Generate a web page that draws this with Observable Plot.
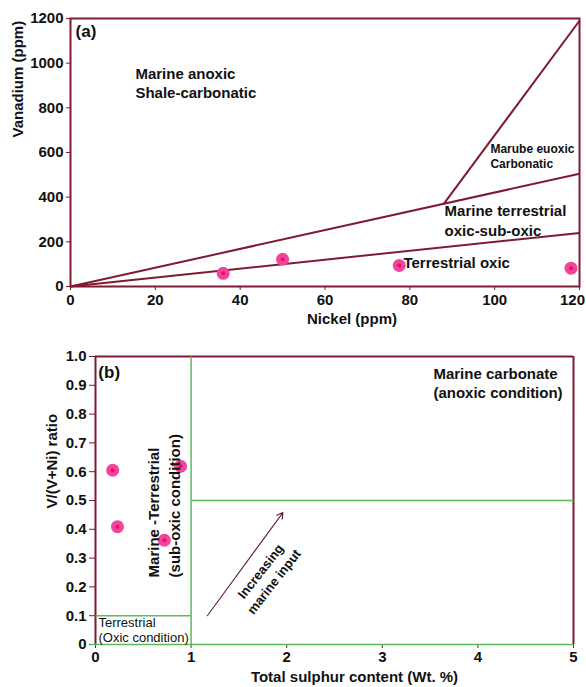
<!DOCTYPE html>
<html>
<head>
<meta charset="utf-8">
<script src="https://cdn.jsdelivr.net/npm/d3@7"></script>
<script src="https://cdn.jsdelivr.net/npm/@observablehq/plot@0.6"></script>
<style>
  html, body { margin: 0; padding: 0; background: #fff; }
  #chart svg { display: block; }
</style>
</head>
<body>
<div id="chart"></div>
<script>
// ---------- Panel (a) data ----------
const nickel = [36, 50, 77.5, 118];
const vanadium = [59, 122, 94, 82];
const nickelTicks = [0, 20, 40, 60, 80, 100, 120];
const nickelTickLabels = ["0", "20", "40", "60", "80", "100", "120"];
const vanadiumTicks = [0, 200, 400, 600, 800, 1000, 1200];
const vanadiumTickLabels = ["0", "200", "400", "600", "800", "1000", "1200"];
// field boundaries (start / end in Ni, V)
const boundaryStartNi = [0, 0, 88];
const boundaryStartV = [0, 0, 370];
const boundaryEndNi = [120, 120, 120];
const boundaryEndV = [505, 240, 1190];

// ---------- Panel (b) data ----------
const sulphur = [0.18, 0.23, 0.72, 0.89];
const ratio = [0.605, 0.409, 0.362, 0.619];
const sulphurTicks = [0, 1, 2, 3, 4, 5];
const sulphurTickLabels = ["0", "1", "2", "3", "4", "5"];
const ratioTicks = [0, 0.1, 0.2, 0.3, 0.4, 0.5, 0.6, 0.7, 0.8, 0.9, 1.0];
const ratioTickLabels = ["0", "0.1", "0.2", "0.3", "0.4", "0.5", "0.6", "0.7", "0.8", "0.9", "1.0"];
// green field boundaries
const fieldX1 = [1, 1, 0, -0.06];
const fieldY1 = [0, 0.5, 0.1, 0];
const fieldX2 = [1, 5, 1, 5];
const fieldY2 = [1, 0.5, 0.1, 0];
// arrow "increasing marine input"
const arrowFromS = [1.17], arrowFromR = [0.10], arrowToS = [1.96], arrowToR = [0.458];

const maroon = "#7f1a33";
const green = "#5dbb5d";
const pink = "#f2449a";
const pinkDark = "#d8176a";
const ink = "#111";
const font = "'Liberation Sans', Arial, Helvetica, sans-serif";

const baseStyle = {
  fontFamily: font, fontSize: "15px", fontWeight: "bold",
  color: ink, background: "white", overflow: "visible"
};

const lastNi = nickelTicks[nickelTicks.length - 1];

const plotA = Plot.plot({
  width: 586, height: 335,
  marginTop: 18, marginBottom: 49, marginLeft: 70, marginRight: 7,
  x: {domain: [0, 120]},
  y: {domain: [0, 1200]},
  style: baseStyle,
  marks: [
    Plot.axisX(nickelTicks, {
      tickSize: 4, tickPadding: 4, stroke: maroon, fill: ink, label: null,
      tickFormat: d => d === lastNi ? "" : nickelTickLabels[nickelTicks.indexOf(d)], fontSize: 15, fontWeight: "bold"
    }),
    Plot.text([nickelTickLabels[nickelTicks.length - 1]], {
      x: [lastNi], frameAnchor: "bottom", lineAnchor: "top", dy: 8, dx: -7,
      fontSize: 15, fontWeight: "bold", fill: ink
    }),
    Plot.axisY(vanadiumTicks, {
      tickSize: 4, tickPadding: 3, stroke: maroon, fill: ink, label: null,
      tickFormat: d => vanadiumTickLabels[vanadiumTicks.indexOf(d)], fontSize: 15, fontWeight: "bold"
    }),
    Plot.link(boundaryStartNi, {
      x1: boundaryStartNi, y1: boundaryStartV, x2: boundaryEndNi, y2: boundaryEndV,
      stroke: maroon, strokeWidth: 2
    }),
    Plot.frame({stroke: maroon, strokeWidth: 2}),
    Plot.dot(nickel, {x: nickel, y: vanadium, r: 6.5, fill: pink}),
    Plot.dot(nickel, {x: nickel, y: vanadium, r: 2, fill: pinkDark}),
    Plot.text(["Vanadium (ppm)"], {frameAnchor: "left", rotate: -90, dx: -52, dy: -15, fontSize: 15, fontWeight: "bold", fill: ink}),
    Plot.text(["Nickel (ppm)"], {frameAnchor: "bottom", dx: 27, dy: 37, fontSize: 15, fontWeight: "bold", fill: ink}),
    Plot.text(["(a)"], {x: [1.2], y: [1142], textAnchor: "start", fontSize: 17, fontWeight: "bold", fill: ink}),
    Plot.text(["Marine anoxic\nShale-carbonatic"], {x: [15.3], y: [916], textAnchor: "start", fontSize: 15, lineHeight: 1.27, fontWeight: "bold", fill: ink}),
    Plot.text(["Marube euoxic\nCarbonatic"], {x: [99], y: [584], textAnchor: "start", fontSize: 12, lineHeight: 1.25, fontWeight: "bold", fill: ink}),
    Plot.text(["Marine terrestrial\noxic-sub-oxic"], {x: [88.2], y: [300], textAnchor: "start", fontSize: 15, lineHeight: 1.33, fontWeight: "bold", fill: ink}),
    Plot.text(["Terrestrial oxic"], {x: [78.5], y: [103], textAnchor: "start", fontSize: 15, fontWeight: "bold", fill: ink})
  ]
});

const plotB = Plot.plot({
  width: 586, height: 352,
  marginTop: 21, marginBottom: 43, marginLeft: 95, marginRight: 13,
  x: {domain: [0, 5]},
  y: {domain: [0, 1]},
  style: baseStyle,
  marks: [
    Plot.axisX(sulphurTicks, {
      tickSize: 4, tickPadding: 3, stroke: maroon, fill: ink, label: null,
      tickFormat: d => sulphurTickLabels[sulphurTicks.indexOf(d)], fontSize: 15, fontWeight: "bold"
    }),
    Plot.axisY(ratioTicks, {
      tickSize: 6, tickPadding: 3, stroke: maroon, fill: ink, label: null,
      tickFormat: d => ratioTickLabels[ratioTicks.indexOf(d)], fontSize: 15, fontWeight: "bold"
    }),
    Plot.ruleX([0, 5], {stroke: maroon, strokeWidth: 2}),
    Plot.ruleY([1], {stroke: maroon, strokeWidth: 2}),
    Plot.link(fieldX1, {x1: fieldX1, y1: fieldY1, x2: fieldX2, y2: fieldY2, stroke: green, strokeWidth: 1.5}),
    Plot.arrow(arrowFromS, {x1: arrowFromS, y1: arrowFromR, x2: arrowToS, y2: arrowToR, stroke: "#5a2232", strokeWidth: 1.1, headLength: 9}),
    Plot.dot(sulphur, {x: sulphur, y: ratio, r: 6.5, fill: pink}),
    Plot.dot(sulphur, {x: sulphur, y: ratio, r: 2, fill: pinkDark}),
    Plot.text(["V/(V+Ni) ratio"], {frameAnchor: "left", rotate: -90, dx: -43, dy: 8, fontSize: 15, fontWeight: "bold", fill: ink}),
    Plot.text(["Total sulphur content (Wt. %)"], {frameAnchor: "bottom", dx: 20, dy: 37, fontSize: 15, fontWeight: "bold", fill: ink}),
    Plot.text(["(b)"], {x: [0.03], y: [0.944], textAnchor: "start", fontSize: 17, fontWeight: "bold", fill: ink}),
    Plot.text(["Marine carbonate\n(anoxic condition)"], {x: [3.535], y: [0.911], textAnchor: "start", fontSize: 15, lineHeight: 1.27, fontWeight: "bold", fill: ink}),
    Plot.text(["Marine -Terrestrial\n(sub-oxic condition)"], {x: [0.706], y: [0.233], rotate: -90, textAnchor: "start", fontSize: 15, lineHeight: 1.4, fontWeight: "bold", fill: ink}),
    Plot.text(["Terrestrial\n(Oxic condition)"], {x: [0.031], y: [0.05], textAnchor: "start", fontSize: 13, lineHeight: 1.15, fontWeight: "normal", fill: ink}),
    Plot.text(["Increasing\nmarine input"], {x: [1.789], y: [0.238], rotate: -52, fontSize: 13, lineHeight: 1.3, fontWeight: "bold", fill: ink})
  ]
});

const chart = document.getElementById("chart");
chart.appendChild(plotA);
chart.appendChild(plotB);
</script>
</body>
</html>
